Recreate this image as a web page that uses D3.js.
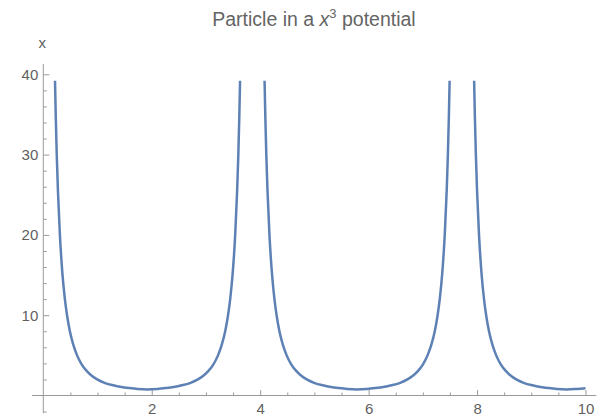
<!doctype html>
<html lang="en">
  <head>
    <meta charset="UTF-8" />
    <title>Particle in a x3 potential</title>
    <script src="https://unpkg.com/d3@7.9.0/dist/d3.min.js"></script>
    <style>
      body {
        margin: 0;
        background: #fff;
        overflow: hidden;
      }
      svg {
        font-family: 'Liberation Sans', Arial, sans-serif;
      }
      .tick text {
        font-size: 15px;
        fill: #5f5f5f;
      }
      .tick line {
        stroke: #9a9a9a;
      }
      .axis-line {
        stroke: #9a9a9a;
        stroke-width: 1;
      }
      .title {
        font-size: 19.5px;
        fill: #646464;
      }
      .axis-label {
        font-size: 15px;
        fill: #5f5f5f;
      }
    </style>
  </head>
  <body>
    <svg width="608" height="419"></svg>

    <script>
      // curve values [t, x], one array per branch
      const branch1 = [
        [0.216, 39.2], [0.23, 34.7], [0.248, 30], [0.27, 25.5], [0.306, 20],
        [0.35, 15.4], [0.398, 12], [0.44, 9.9], [0.49, 8], [0.55, 6.4],
        [0.623, 5], [0.71, 3.85], [0.808, 3], [0.9, 2.42], [0.994, 2],
        [1.14, 1.55], [1.29, 1.27], [1.44, 1.06], [1.59, 0.92], [1.74, 0.81],
        [1.922, 0.75], [2.105, 0.81], [2.255, 0.92], [2.405, 1.06], [2.555, 1.27],
        [2.705, 1.55], [2.851, 2], [2.945, 2.42], [3.037, 3], [3.135, 3.85],
        [3.222, 5], [3.295, 6.4], [3.355, 8], [3.405, 9.9], [3.447, 12],
        [3.495, 15.4], [3.539, 20], [3.575, 25.5], [3.597, 30], [3.615, 34.7],
        [3.629, 39.2],
      ];
      const branch2 = [
        [4.081, 39.2], [4.095, 34.7], [4.113, 30], [4.135, 25.5], [4.171, 20],
        [4.215, 15.4], [4.263, 12], [4.305, 9.9], [4.355, 8], [4.415, 6.4],
        [4.488, 5], [4.575, 3.85], [4.673, 3], [4.765, 2.42], [4.859, 2],
        [5.005, 1.55], [5.155, 1.27], [5.305, 1.06], [5.455, 0.92], [5.605, 0.81],
        [5.787, 0.75], [5.97, 0.81], [6.12, 0.92], [6.27, 1.06], [6.42, 1.27],
        [6.57, 1.55], [6.716, 2], [6.81, 2.42], [6.903, 3], [7.0, 3.85],
        [7.087, 5], [7.16, 6.4], [7.22, 8], [7.27, 9.9], [7.312, 12],
        [7.36, 15.4], [7.404, 20], [7.44, 25.5], [7.462, 30], [7.48, 34.7],
        [7.494, 39.2],
      ];
      const branch3 = [
        [7.946, 39.2], [7.96, 34.7], [7.978, 30], [8.0, 25.5], [8.036, 20],
        [8.08, 15.4], [8.128, 12], [8.17, 9.9], [8.22, 8], [8.28, 6.4],
        [8.353, 5], [8.44, 3.85], [8.538, 3], [8.63, 2.42], [8.724, 2],
        [8.87, 1.55], [9.02, 1.27], [9.17, 1.06], [9.32, 0.92], [9.47, 0.81],
        [9.652, 0.75], [9.835, 0.81], [10.0, 0.9],
      ];

      const xMajorTicks = [2, 4, 6, 8, 10];
      const xMinorTicks = [0.5, 1, 1.5, 2.5, 3, 3.5, 4.5, 5, 5.5, 6.5, 7, 7.5, 8.5, 9, 9.5];
      const yMajorTicks = [10, 20, 30, 40];
      const yMinorTicks = [-2, 2, 4, 6, 8, 12, 14, 16, 18, 22, 24, 26, 28, 32, 34, 36, 38];

      const titleText = ['Particle in a ', 'x', '3', ' potential'];
      const yLabel = 'x';

      const svg = d3.select('svg');

      const x = d3.scaleLinear().domain([0, 10]).range([43.3, 585.5]);
      const y = d3.scaleLinear().domain([0, 40]).range([395.5, 74.3]);

      // axis lines (origin at 0,0, stretched a little past the data)
      svg
        .append('line')
        .attr('class', 'axis-line')
        .attr('x1', x(-0.21))
        .attr('x2', x(10.2))
        .attr('y1', y(0))
        .attr('y2', y(0));
      svg
        .append('line')
        .attr('class', 'axis-line')
        .attr('x1', x(0))
        .attr('x2', x(0))
        .attr('y1', y(-2.2))
        .attr('y2', y(41.3));

      // x ticks point up into the plot
      svg
        .append('g')
        .attr('transform', `translate(0,${y(0)})`)
        .call(d3.axisBottom(x).tickValues(xMinorTicks).tickSize(-3).tickFormat(''))
        .call((g) => g.select('.domain').remove());
      svg
        .append('g')
        .attr('transform', `translate(0,${y(0)})`)
        .call(d3.axisBottom(x).tickValues(xMajorTicks).tickSize(-5.5).tickPadding(8).tickFormat(d3.format('d')))
        .call((g) => g.select('.domain').remove());

      // y ticks point right
      svg
        .append('g')
        .attr('transform', `translate(${x(0)},0)`)
        .call(d3.axisLeft(y).tickValues(yMinorTicks).tickSize(-3.5).tickFormat(''))
        .call((g) => g.select('.domain').remove());
      svg
        .append('g')
        .attr('transform', `translate(${x(0)},0)`)
        .call(d3.axisLeft(y).tickValues(yMajorTicks).tickSize(-6).tickPadding(5).tickFormat(d3.format('d')))
        .call((g) => g.select('.domain').remove());

      svg.selectAll('.tick text').attr('font-family', null).attr('font-size', null);

      // curve
      const line = d3
        .line()
        .x((d) => x(d[0]))
        .y((d) => y(d[1]))
        .curve(d3.curveMonotoneX);

      svg
        .selectAll('.branch')
        .data([branch1, branch2, branch3])
        .enter()
        .append('path')
        .attr('class', 'branch')
        .attr('d', line)
        .attr('fill', 'none')
        .attr('stroke', '#5e81b5')
        .attr('stroke-width', 2.5)
        .attr('stroke-linejoin', 'round');

      // y axis label
      svg
        .append('text')
        .attr('class', 'axis-label')
        .attr('x', x(0) - 1)
        .attr('y', 48)
        .style('text-anchor', 'middle')
        .text(yLabel);

      // title with superscript
      const title = svg
        .append('text')
        .attr('class', 'title')
        .attr('x', 314)
        .attr('y', 26)
        .style('text-anchor', 'middle');
      title.append('tspan').text(titleText[0]);
      title.append('tspan').style('font-style', 'italic').text(titleText[1]);
      title.append('tspan').attr('dy', -8).style('font-size', '13px').text(titleText[2]);
      title.append('tspan').attr('dy', 8).text(titleText[3]);
    </script>
  </body>
</html>
